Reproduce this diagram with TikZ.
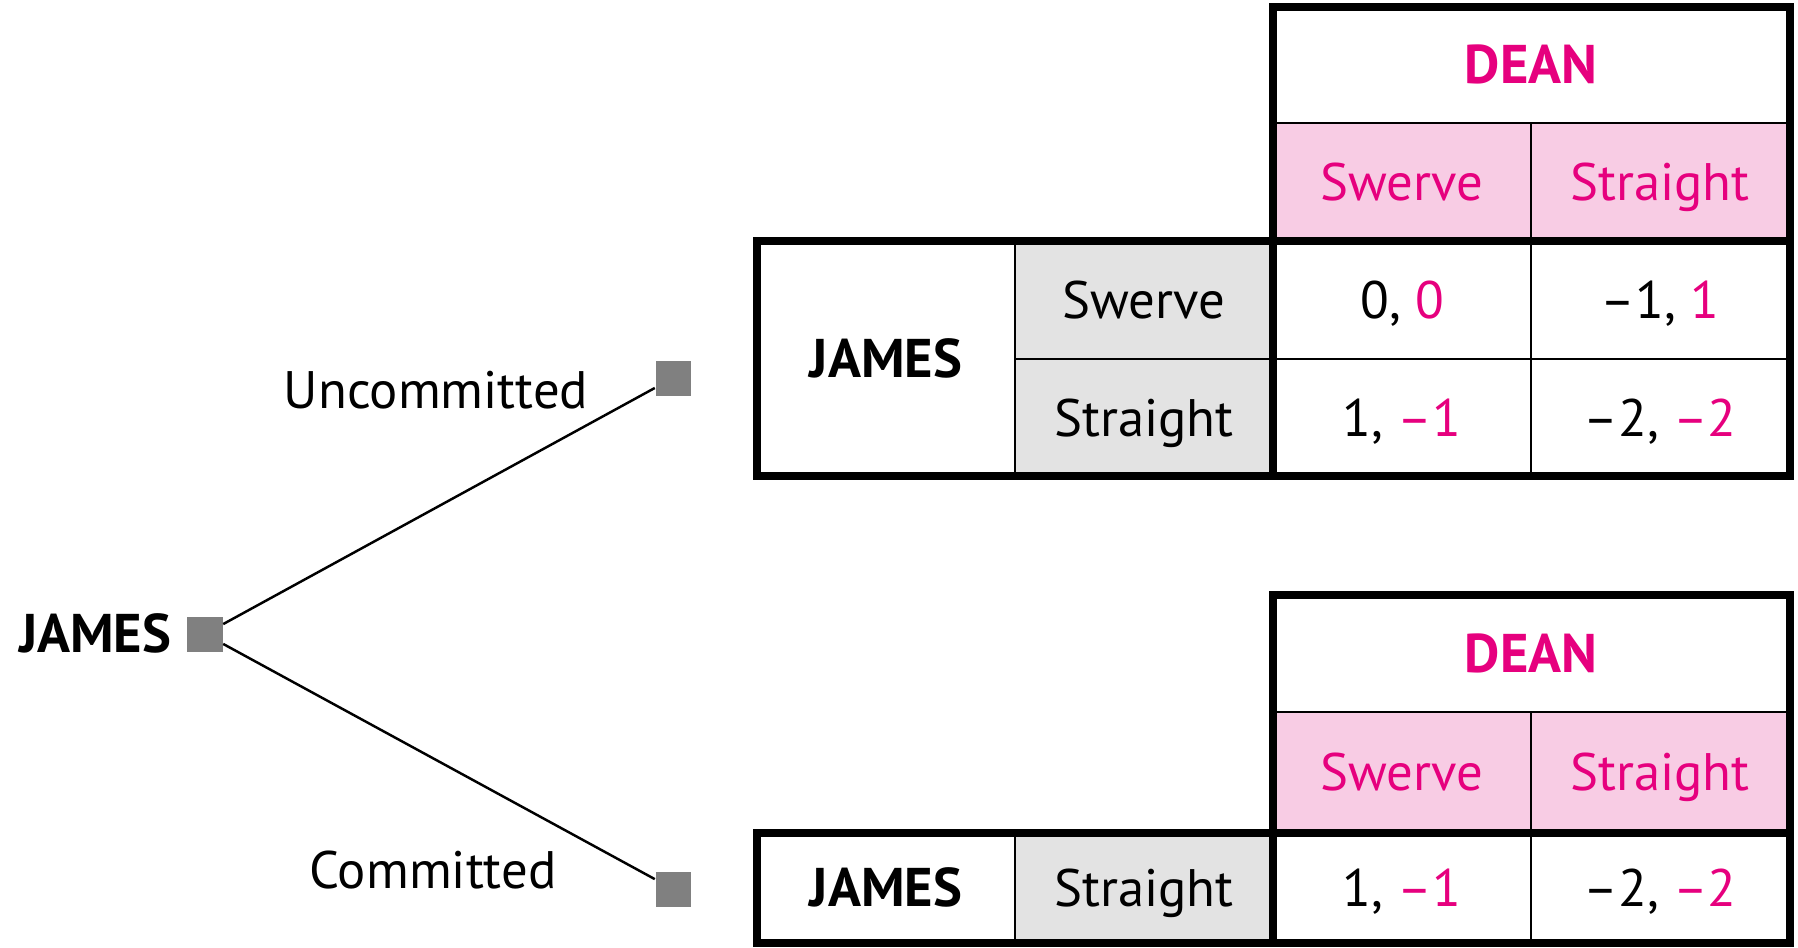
\documentclass[tikz,border=0pt]{standalone}
\usepackage{fontspec}
\setmainfont{PT Sans}

\definecolor{deanpink}{RGB}{230,0,126}
\definecolor{headfill}{RGB}{248,204,228}
\definecolor{rowfill}{RGB}{227,227,227}
\definecolor{nodegray}{RGB}{128,128,128}

\tikzset{
  cell/.style={font=\fontsize{15}{18}\selectfont, inner sep=0pt, text height=10.5pt, text depth=0pt},
  player/.style={cell, font=\fontsize{15.5}{18}\selectfont\bfseries},
  dean/.style={player, text=deanpink},
  move/.style={cell, text=deanpink},
  thickline/.style={line width=2.3pt},
  thinline/.style={line width=0.6pt},
  branch/.style={line width=0.7pt},
  decision/.style={fill=nodegray, minimum size=0.35cm, inner sep=0pt},
}

\newcommand{\dn}[1]{\textcolor{deanpink}{#1}}

\begin{document}
\begin{tikzpicture}[x=0.01cm, y=-0.01cm]

\useasboundingbox (0,0) rectangle (1798,947);

% tree
\node[decision] (root) at (205,634) {};
\node[decision] (unc) at (673,378) {};
\node[decision] (com) at (673,889) {};
\node[player, anchor=east] (rootlabel) at (172,634) {JAMES};
\node[cell] (unclabel) at (436,390) {Uncommitted};
\node[cell] (comlabel) at (433,870) {Committed};

\draw[branch] (root) -- (unc);
\draw[branch] (root) -- (com);

% upper table
\fill[headfill] (1273,123) rectangle (1790,241);
\fill[rowfill] (1015,241) rectangle (1273,476);

\draw[thinline] (1273,123) -- (1790,123);
\draw[thinline] (1531,123) -- (1531,476);
\draw[thinline] (1015,241) -- (1015,476);
\draw[thinline] (1015,359) -- (1790,359);
\draw[thickline] (757,241) rectangle (1790,476);
\draw[thickline] (1273,476) -- (1273,7) -- (1790,7) -- (1790,241);

\node[dean] (dean1) at (1531,65) {DEAN};
\node[move] (colswerve1) at (1402,182) {Swerve};
\node[move] (colstraight1) at (1660,182) {Straight};
\node[player] (james1) at (886,359) {JAMES};
\node[cell] (rowswerve1) at (1144,300) {Swerve};
\node[cell] (rowstraight1) at (1144,418) {Straight};
\node[cell] (pay11) at (1402,300) {0, \dn{0}};
\node[cell] (pay12) at (1660,300) {–1, \dn{1}};
\node[cell] (pay21) at (1402,418) {1, \dn{–1}};
\node[cell] (pay22) at (1660,418) {–2, \dn{–2}};

% lower table
\fill[headfill] (1273,712) rectangle (1790,833);
\fill[rowfill] (1015,833) rectangle (1273,943);

\draw[thinline] (1273,712) -- (1790,712);
\draw[thinline] (1531,712) -- (1531,943);
\draw[thinline] (1015,833) -- (1015,943);
\draw[thickline] (757,833) rectangle (1790,943);
\draw[thickline] (1273,943) -- (1273,595) -- (1790,595) -- (1790,833);

\node[dean] (dean2) at (1531,654) {DEAN};
\node[move] (colswerve2) at (1402,772) {Swerve};
\node[move] (colstraight2) at (1660,772) {Straight};
\node[player] (james2) at (886,888) {JAMES};
\node[cell] (rowstraight2) at (1144,888) {Straight};
\node[cell] (pay31) at (1402,888) {1, \dn{–1}};
\node[cell] (pay32) at (1660,888) {–2, \dn{–2}};

\end{tikzpicture}
\end{document}
